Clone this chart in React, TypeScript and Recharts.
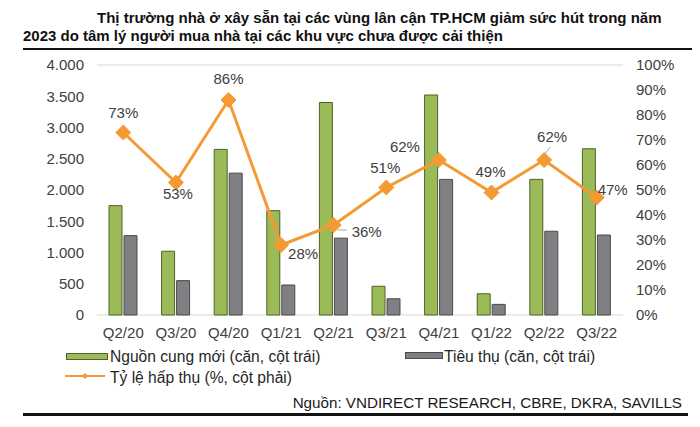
import React from "react";
import {
  ComposedChart,
  Bar,
  Line,
  XAxis,
  YAxis,
  CartesianGrid,
} from "recharts";

const categories = ["Q2/20", "Q3/20", "Q4/20", "Q1/21", "Q2/21", "Q3/21", "Q4/21", "Q1/22", "Q2/22", "Q3/22"];
const newSupply = [1750, 1020, 2650, 1670, 3400, 460, 3520, 340, 2170, 2660];
const sales = [1270, 550, 2270, 480, 1230, 260, 2170, 170, 1340, 1280];
const absorption = [73, 53, 86, 28, 36, 51, 62, 49, 62, 47];
const leftTicks = [0, 500, 1000, 1500, 2000, 2500, 3000, 3500, 4000];
const rightTicks = [0, 10, 20, 30, 40, 50, 60, 70, 80, 90, 100];

const titleLine1 = "Thị trường nhà ở xây sẵn tại các vùng lân cận TP.HCM giảm sức hút trong năm";
const titleLine2 = "2023 do tâm lý người mua nhà tại các khu vực chưa được cải thiện";
const legendSupply = "Nguồn cung mới (căn, cột trái)";
const legendSales = "Tiêu thụ (căn, cột trái)";
const legendRate = "Tỷ lệ hấp thụ (%, cột phải)";
const sourceText = "Nguồn: VNDIRECT RESEARCH, CBRE, DKRA, SAVILLS";

const data = categories.map((c, i) => ({
  name: c,
  supply: newSupply[i],
  sales: sales[i],
  rate: absorption[i],
}));

// label placement relative to each point (style only)
const labelPlacement: { dx: number; dy: number; anchor: "middle" | "start"; leader?: [number, number, number, number] }[] = [
  { dx: 0, dy: -20, anchor: "middle" },
  { dx: 2, dy: 11, anchor: "middle" },
  { dx: 0, dy: -21, anchor: "middle" },
  { dx: 22, dy: 9, anchor: "middle" },
  { dx: 18, dy: 7, anchor: "start", leader: [4, 5, 13, 5] },
  { dx: -1, dy: -20, anchor: "middle" },
  { dx: -34, dy: -13, anchor: "middle", leader: [-3, -15, -4, -9] },
  { dx: -1, dy: -21, anchor: "middle" },
  { dx: 8, dy: -23, anchor: "middle", leader: [6, -13, 1, -6] },
  { dx: 16, dy: -8, anchor: "middle" },
];

const FONT = "'Liberation Sans', Arial, sans-serif";
const ORANGE = "#F59A32";
const GREEN = "#9BBB59";
const GRAY = "#7F7F84";
const TEXT = "#404040";

const fmtThousands = (v: number) => v.toLocaleString("de-DE");

const Diamond = (props: any) => {
  const { cx, cy } = props;
  if (cx == null || cy == null) return null;
  const r = 7.5;
  return (
    <path
      d={`M${cx},${cy - r} L${cx + r},${cy} L${cx},${cy + r} L${cx - r},${cy} Z`}
      fill={ORANGE}
      stroke={ORANGE}
    />
  );
};

const PctLabel = (props: any) => {
  const { x, y, value, index } = props;
  const p = labelPlacement[index] || { dx: 0, dy: -20, anchor: "middle" };
  return (
    <g>
      {p.leader && (
        <line
          x1={x + p.leader[0]}
          y1={y + p.leader[1]}
          x2={x + p.leader[2]}
          y2={y + p.leader[3]}
          stroke="#A6A6A6"
          strokeWidth={1}
        />
      )}
      <text
        x={x + p.dx}
        y={y + p.dy}
        dy="0.36em"
        textAnchor={p.anchor}
        fill={TEXT}
        fontSize={15}
        fontFamily={FONT}
      >
        {`${value}%`}
      </text>
    </g>
  );
};

export default function App() {
  return (
    <div
      style={{
        position: "absolute",
        left: 0,
        top: 0,
        width: 700,
        height: 427,
        background: "#fff",
        fontFamily: FONT,
        overflow: "hidden",
      }}
    >
      <div style={{ position: "absolute", left: 97, top: 8, fontWeight: "bold", fontSize: 15, color: "#111", whiteSpace: "nowrap", lineHeight: "20px" }}>
        {titleLine1}
      </div>
      <div style={{ position: "absolute", left: 23, top: 26, fontWeight: "bold", fontSize: 15, color: "#111", whiteSpace: "nowrap", lineHeight: "20px" }}>
        {titleLine2}
      </div>
      <div style={{ position: "absolute", left: 23, top: 48, width: 669, height: 2, background: "#111" }} />

      <div style={{ position: "absolute", left: 0, top: 0 }}>
        <ComposedChart
          width={700}
          height={345}
          data={data}
          margin={{ top: 65, right: 0, left: 0, bottom: 0 }}
          barGap={2}
        >
          <CartesianGrid vertical={false} stroke="#D9D9D9" strokeWidth={1} />
          <XAxis
            dataKey="name"
            axisLine={false}
            tickLine={false}
            height={30}
            tickMargin={6}
            interval={0}
            tick={{ fill: TEXT, fontSize: 15, fontFamily: FONT }}
          />
          <YAxis
            yAxisId="left"
            orientation="left"
            width={97}
            domain={[0, 4000]}
            ticks={leftTicks}
            tickFormatter={fmtThousands}
            axisLine={false}
            tickLine={false}
            tickMargin={7}
            tick={{ fill: TEXT, fontSize: 15, fontFamily: FONT }}
          />
          <YAxis
            yAxisId="right"
            orientation="right"
            width={77}
            domain={[0, 100]}
            ticks={rightTicks}
            tickFormatter={(v: number) => `${v}%`}
            axisLine={false}
            tickLine={false}
            tickMargin={7}
            tick={{ fill: TEXT, fontSize: 15, fontFamily: FONT, textAnchor: "start" }}
          />
          <Bar yAxisId="left" dataKey="supply" barSize={13} fill={GREEN} stroke="#4F6228" strokeWidth={1} isAnimationActive={false} />
          <Bar yAxisId="left" dataKey="sales" barSize={13} fill={GRAY} stroke="#4A4A4A" strokeWidth={1} isAnimationActive={false} />
          <Line
            yAxisId="right"
            dataKey="rate"
            stroke={ORANGE}
            strokeWidth={3}
            dot={<Diamond />}
            activeDot={false}
            label={<PctLabel />}
            isAnimationActive={false}
          />
        </ComposedChart>
      </div>

      {/* legend */}
      <div style={{ position: "absolute", left: 66, top: 353, width: 40, height: 5, background: GREEN, border: "1px solid #4F6228" }} />
      <div style={{ position: "absolute", left: 110, top: 348, fontSize: 15.6, color: "#262626", whiteSpace: "nowrap", lineHeight: "18px" }}>
        {legendSupply}
      </div>
      <div style={{ position: "absolute", left: 405, top: 352, width: 36, height: 5, background: GRAY, border: "1px solid #4A4A4A" }} />
      <div style={{ position: "absolute", left: 444, top: 348, fontSize: 15.6, color: "#262626", whiteSpace: "nowrap", lineHeight: "18px" }}>
        {legendSales}
      </div>
      <svg style={{ position: "absolute", left: 62, top: 370 }} width={46} height={12}>
        <line x1={3} y1={6} x2={43} y2={6} stroke={ORANGE} strokeWidth={2} />
        <path d="M23,3 L26,6 L23,9 L20,6 Z" fill={ORANGE} />
      </svg>
      <div style={{ position: "absolute", left: 110, top: 369, fontSize: 15.6, color: "#262626", whiteSpace: "nowrap", lineHeight: "18px" }}>
        {legendRate}
      </div>

      <div style={{ position: "absolute", right: 18, top: 394, fontSize: 15.2, color: "#1a1a1a", whiteSpace: "nowrap", lineHeight: "18px" }}>
        {sourceText}
      </div>
      <div style={{ position: "absolute", left: 23, top: 413, width: 665, height: 3, background: "#111" }} />
    </div>
  );
}
